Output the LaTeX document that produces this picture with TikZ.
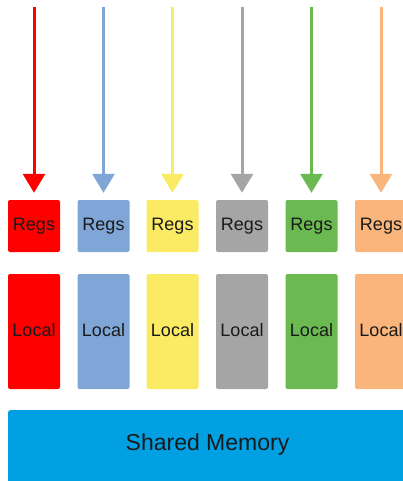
\documentclass[tikz,border=0pt]{standalone}
\usepackage{fontspec}
\setmainfont{Liberation Sans}
\usetikzlibrary{arrows.meta}
\definecolor{cRed}{HTML}{FF0000}
\definecolor{cBlue}{HTML}{7FA6D6}
\definecolor{cYellow}{HTML}{FAEA64}
\definecolor{cGray}{HTML}{A5A5A5}
\definecolor{cGreen}{HTML}{6AB951}
\definecolor{cOrange}{HTML}{F9B57C}
\definecolor{cShared}{HTML}{00A0E2}
\definecolor{cText}{HTML}{1A1A1A}
\tikzset{
  membox/.style={fill=#1, draw=none, rounded corners=2pt, inner sep=0pt,
    minimum width=52pt, text=cText, font=\fontsize{18}{18}\selectfont},
  regbox/.style={membox=#1, minimum height=52pt},
  localbox/.style={membox=#1, minimum height=115pt},
  feed/.style={draw=#1, line width=3pt,
    -{Triangle[width=22pt,length=19pt,fill=#1]}}
}
\begin{document}
\begin{tikzpicture}[x=1pt,y=-1pt]
  \useasboundingbox (0,0) rectangle (403,481);
  % one column per thread: incoming arrow, registers, local memory
  \foreach \i/\cx/\col in {1/34/cRed,2/103.5/cBlue,3/172.5/cYellow,4/242/cGray,5/311.5/cGreen,6/381/cOrange}{
    \coordinate (src\i) at (\cx,7);
    \node[regbox=\col] (regs\i) at (\cx,226) {\raisebox{0.5pt}{Regs}};
    \node[localbox=\col] (local\i) at (\cx,331.5) {\raisebox{4pt}{Local}};
    \draw[feed=\col] (src\i) -- ([yshift=7pt]regs\i.north);
  }
  % shared memory bar across the bottom
  \node[fill=cShared, rounded corners=2pt, inner sep=0pt, minimum width=400pt,
        minimum height=80pt, anchor=north west, text=cText] (shm) at (8,410) {};
  \node[text=cText, font=\fontsize{23}{23}\selectfont] (shmlabel) at (207.5,445) {Shared Memory};
\end{tikzpicture}
\end{document}
